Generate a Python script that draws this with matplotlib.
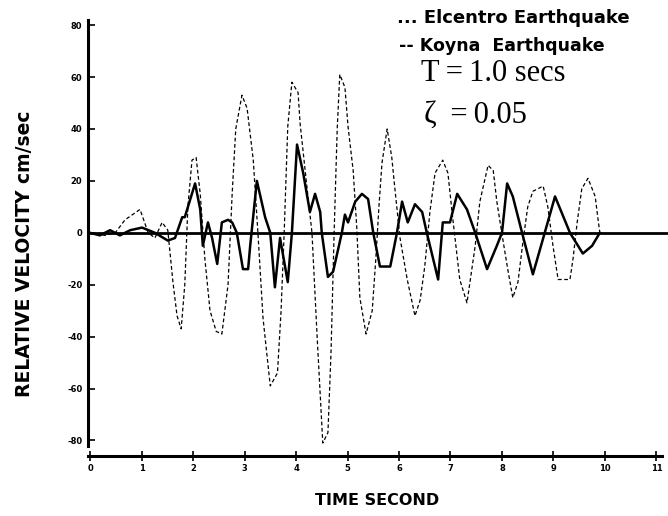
import matplotlib
matplotlib.use("Agg")
import matplotlib.pyplot as plt

# time in seconds, relative velocity in cm/sec
t_solid = [0, 0.19, 0.39, 0.58, 0.78, 1.01, 1.26, 1.51, 1.65, 1.79, 1.84, 2.04,
           2.14, 2.19, 2.29, 2.37, 2.47, 2.56, 2.68, 2.76, 2.85, 2.97, 3.07, 3.11,
           3.24, 3.40, 3.50, 3.59, 3.69, 3.84, 3.92, 4.02, 4.14, 4.27, 4.37, 4.47,
           4.50, 4.62, 4.72, 4.89, 4.95, 5.01, 5.15, 5.28, 5.40, 5.50, 5.63, 5.83,
           5.96, 6.06, 6.17, 6.31, 6.45, 6.54, 6.76, 6.85, 6.99, 7.13, 7.32, 7.48,
           7.71, 7.90, 8.00, 8.10, 8.21, 8.39, 8.60, 8.83, 9.03, 9.32, 9.57, 9.75,
           9.90]
v_solid = [0, -1, 1, -1, 1, 2, 0, -3, -2, 6, 6, 19,
           9, -5, 4, -2, -12, 4, 5, 4, 0, -14, -14, -5,
           20, 6, 0, -21, -2, -19, 0, 34, 23, 8, 15, 8,
           0, -17, -15, 0, 7, 4, 12, 15, 13, 0, -13, -13,
           0, 12, 4, 11, 8, 0, -18, 4, 4, 15, 9, 0,
           -14, -5, 0, 19, 14, 0, -16, 0, 14, 0, -8, -5,
           0]

t_dash = [0, 0.29, 0.49, 0.68, 0.97, 1.13, 1.26, 1.40, 1.51, 1.61, 1.69, 1.77,
          1.84, 1.90, 1.98, 2.06, 2.14, 2.23, 2.33, 2.45, 2.56, 2.68, 2.76, 2.83,
          2.95, 3.05, 3.17, 3.26, 3.36, 3.50, 3.64, 3.71, 3.77, 3.84, 3.92, 4.04,
          4.08, 4.21, 4.31, 4.41, 4.52, 4.62, 4.68, 4.74, 4.80, 4.85, 4.95, 5.01,
          5.11, 5.18, 5.24, 5.36, 5.48, 5.55, 5.61, 5.67, 5.77, 5.86, 5.92, 6.02,
          6.16, 6.31, 6.41, 6.50, 6.60, 6.70, 6.85, 6.95, 7.03, 7.18, 7.32, 7.48,
          7.57, 7.73, 7.83, 7.90, 8.02, 8.12, 8.21, 8.31, 8.41, 8.50, 8.60, 8.80,
          8.89, 8.99, 9.09, 9.32, 9.38, 9.46, 9.55, 9.67, 9.81, 9.86, 9.90]
v_dash = [0, -1, 0, 5, 9, 0, -2, 4, 1, -19, -32, -37,
          -20, 10, 28, 29, 15, -10, -30, -38, -39, -20, 15, 40,
          53, 48, 28, 0, -33, -59, -54, -30, 0, 41, 58, 54,
          42, 18, 0, -40, -81, -77, -46, 0, 40, 61, 56, 41,
          24, 2, -25, -39, -30, -10, 10, 27, 40, 29, 17, -2,
          -18, -32, -26, -13, 8, 23, 28, 23, 8, -18, -27, -5,
          12, 26, 24, 12, -3, -15, -25, -19, -3, 10, 16, 18,
          10, -5, -18, -18, -10, 4, 17, 21, 14, 6, 0]

y_ticks = [80, 60, 40, 20, 0, -20, -40, -60, -80]
x_ticks = list(range(12))

fig = plt.figure(figsize=(6.68, 5.16), dpi=100)
ax = fig.add_axes([0.1317, 0.1163, 0.868, 0.8450])

ax.plot(t_solid, v_solid, color="black", lw=1.8, solid_joinstyle="round")
ax.plot(t_dash, v_dash, color="black", lw=0.9, linestyle=(0, (3, 2)))
ax.axhline(0, color="black", lw=2.0)

ax.set_xlim(-0.04, 11.22)
ax.set_ylim(-86, 82)

for side in ["top", "right"]:
    ax.spines[side].set_visible(False)
ax.spines["left"].set_linewidth(2.2)
ax.spines["bottom"].set_linewidth(2.2)
ax.spines["left"].set_bounds(-82, 82)
ax.spines["bottom"].set_bounds(-0.04, 11.1)

ax.set_yticks(y_ticks)
ax.set_yticklabels([str(v) for v in y_ticks], fontsize=6, fontweight="bold")
ax.set_xticks(x_ticks)
ax.set_xticklabels([str(v) for v in x_ticks], fontsize=6, fontweight="bold")
ax.tick_params(axis="y", direction="in", length=5, width=1.2, pad=4)
ax.tick_params(axis="x", direction="inout", length=7, width=1.2, pad=2)

fig.text(0.037, 0.508, "RELATIVE VELOCITY cm/sec", rotation=90, fontsize=13.5,
         fontweight="bold", ha="center", va="center")
fig.text(0.565, 0.03, "TIME SECOND", fontsize=11.5, fontweight="bold",
         ha="center", va="center")

fig.text(0.594, 0.966, "... Elcentro Earthquake", fontsize=13, fontweight="bold",
         ha="left", va="center")
fig.text(0.597, 0.910, "-- Koyna  Earthquake", fontsize=12.5, fontweight="bold",
         ha="left", va="center")
fig.text(0.630, 0.857, "T\u2009=\u20091.0 secs", fontsize=22, family="Liberation Serif",
         ha="left", va="center")
fig.text(0.634, 0.777, "\u03b6 \u2009=\u20090.05", fontsize=22, family="Liberation Serif",
         ha="left", va="center")

fig.savefig("out.png", dpi=100)
